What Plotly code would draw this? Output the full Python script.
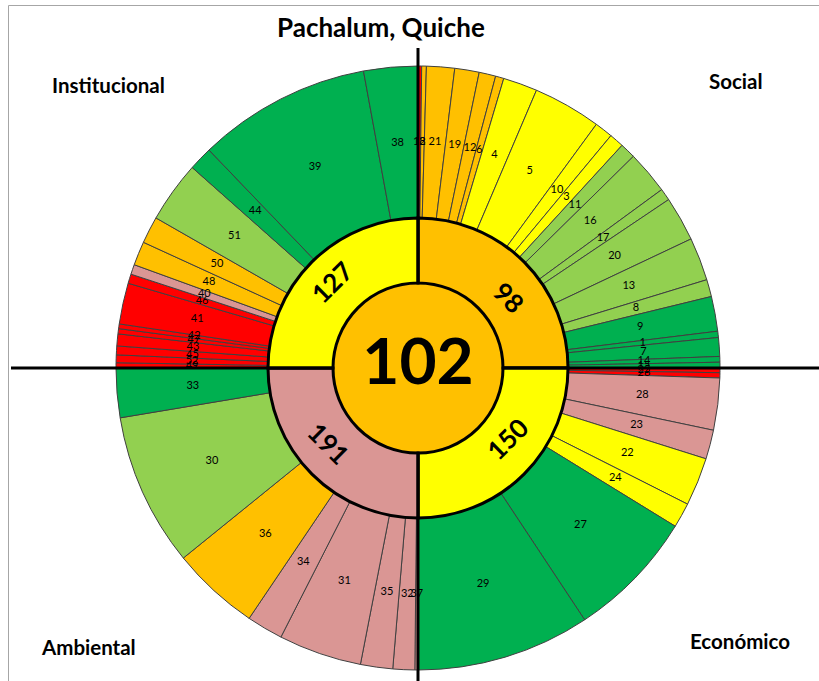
import numpy as np
import plotly.graph_objects as go

# ---------------- data ----------------
# outer ring: indicator numbers, angular share (deg within each 90° quadrant), rating class
social_labels = ["18", "2", "21", "19", "12", "6", "4", "5", "10", "3", "11", "16", "17", "20", "13", "8", "9", "1", "7", "14", "15"]
social_share = [0.7, 0.9, 5.4, 4.7, 3.2, 1.6, 6.6, 13.1, 3.5, 2.8, 3.0, 8.3, 2.3, 8.6, 8.3, 3.3, 6.7, 1.2, 3.6, 1.1, 1.1]
social_class = ["R", "O", "O", "O", "O", "O", "Y", "Y", "Y", "Y", "LG", "LG", "LG", "LG", "LG", "LG", "DG", "DG", "DG", "DG", "DG"]

econ_labels = ["25", "26", "28", "23", "22", "24", "27", "29"]
econ_share = [0.9, 1.0, 10.0, 5.6, 9.3, 4.8, 24.9, 33.5]
econ_class = ["R", "R", "P", "P", "Y", "Y", "DG", "DG"]

amb_labels = ["37", "32", "35", "31", "34", "36", "30", "33"]
amb_share = [0.6, 4.2, 6.2, 16.0, 7.0, 17.0, 29.5, 9.5]
amb_class = ["P", "P", "P", "P", "P", "O", "LG", "DG"]

inst_labels = ["49", "52", "45", "43", "47", "42", "41", "46", "40", "48", "50", "51", "44", "39", "38"]
inst_share = [1.0, 1.5, 1.7, 2.3, 1.0, 0.9, 7.9, 1.8, 1.9, 4.6, 5.2, 11.8, 4.6, 33.4, 10.4]
inst_class = ["R", "R", "R", "R", "R", "R", "R", "R", "P", "O", "O", "LG", "DG", "DG", "DG"]

# middle ring: dimensions
dimensions = ["Social", "Económico", "Ambiental", "Institucional"]
dim_scores = [98, 150, 191, 127]
dim_class = ["O", "Y", "P", "Y"]

# center
total_score = 102
total_class = "O"
title_text = "Pachalum, Quiche"

# ---------------- styles ----------------
COLORS = {"R": "#FF0000", "O": "#FFC000", "Y": "#FFFF00", "LG": "#92D050", "DG": "#00B050", "P": "#DA9694"}
FONT = "Lato"
W, H = 819, 681
CX, CY = 418, 368          # chart centre in px (from top-left)
R_OUT, R_MID, R_IN = 302, 150, 85
RD = R_OUT + 2             # polar domain radius (px)
LABEL_R = 226
dim_label_pos = [(52, 115), (128.6, 114), (230, 117), (315, 122)]  # (angle, radius) for rotated labels
dim_label_rot = [45, -45, 45, -45]
corner_pos = [(736, 81), (740, 641), (88, 647), (108, 85)]

labels = social_labels + econ_labels + amb_labels + inst_labels
share = np.array(social_share + econ_share + amb_share + inst_share, dtype=float)
classes = social_class + econ_class + amb_class + inst_class
starts = np.concatenate([[0.0], np.cumsum(share)[:-1]])
centers = starts + share / 2
n = len(labels)

dim_width = 360.0 / len(dimensions)
dim_centers = [dim_width * (i + 0.5) for i in range(len(dimensions))]

fig = go.Figure()

# outer ring
fig.add_trace(go.Barpolar(
    r=[R_OUT - R_MID] * n, base=[R_MID] * n, theta=centers, width=share,
    marker=dict(color=[COLORS[c] for c in classes], line=dict(color="#404040", width=1)),
    hoverinfo="skip", showlegend=False))

# centre disc
fig.add_trace(go.Barpolar(
    r=[R_IN] * 4, base=[0] * 4, theta=dim_centers, width=[dim_width] * 4,
    marker=dict(color=COLORS[total_class], line=dict(color=COLORS[total_class], width=1)),
    hoverinfo="skip", showlegend=False))

# middle ring
fig.add_trace(go.Barpolar(
    r=[R_MID - R_IN] * 4, base=[R_IN] * 4, theta=dim_centers, width=[dim_width] * 4,
    marker=dict(color=[COLORS[c] for c in dim_class], line=dict(color="black", width=3)),
    hoverinfo="skip", showlegend=False))

# outer labels
fig.add_trace(go.Scatterpolar(
    r=[LABEL_R] * n, theta=centers, mode="text", text=labels,
    textfont=dict(size=11, color="black", family=FONT),
    hoverinfo="skip", showlegend=False))

# centre label
fig.add_trace(go.Scatterpolar(
    r=[0], theta=[0], mode="text", text=[str(total_score)],
    textfont=dict(size=64, color="black", family=FONT, weight="bold"),
    hoverinfo="skip", showlegend=False))


def px(x):
    return x / W


def py(y):
    return 1 - y / H


shapes = [
    dict(type="rect", xref="paper", yref="paper", x0=px(8.5), x1=px(W + 20), y0=py(5.5), y1=py(H + 20),
         line=dict(color="#A6A6A6", width=1), layer="below"),
    dict(type="line", xref="paper", yref="paper", x0=px(11), x1=px(CX - R_IN), y0=py(CY), y1=py(CY),
         line=dict(color="black", width=3)),
    dict(type="line", xref="paper", yref="paper", x0=px(CX + R_IN), x1=px(W), y0=py(CY), y1=py(CY),
         line=dict(color="black", width=3)),
    dict(type="line", xref="paper", yref="paper", x0=px(CX), x1=px(CX), y0=py(48), y1=py(CY - R_IN),
         line=dict(color="black", width=3)),
    dict(type="line", xref="paper", yref="paper", x0=px(CX), x1=px(CX), y0=py(CY + R_IN), y1=py(H),
         line=dict(color="black", width=3)),
]

annotations = [
    dict(text="<b>" + title_text + "</b>", x=px(381), y=py(27), xref="paper", yref="paper",
         xanchor="center", yanchor="middle",
         showarrow=False, font=dict(size=26, family=FONT, color="black")),
]
for name, (x, y) in zip(dimensions, corner_pos):
    annotations.append(dict(text="<b>" + name + "</b>", x=px(x), y=py(y), xref="paper", yref="paper",
                            xanchor="center", yanchor="middle",
                            showarrow=False, font=dict(size=20.5, family=FONT, color="black")))
for val, (ang, rr), rot in zip(dim_scores, dim_label_pos, dim_label_rot):
    a = np.radians(ang)
    x = CX + rr * np.sin(a)
    y = CY - rr * np.cos(a)
    annotations.append(dict(text="<b>" + str(val) + "</b>", x=px(x), y=py(y), xref="paper", yref="paper",
                            xanchor="center", yanchor="middle",
                            showarrow=False, textangle=rot, font=dict(size=26, family=FONT, color="black")))

fig.update_layout(
    width=W, height=H, margin=dict(l=0, r=0, t=0, b=0),
    paper_bgcolor="white", plot_bgcolor="white",
    polar=dict(
        domain=dict(x=[(CX - RD) / W, (CX + RD) / W], y=[(H - CY - RD) / H, (H - CY + RD) / H]),
        radialaxis=dict(range=[0, RD], visible=False),
        angularaxis=dict(visible=False, direction="clockwise", rotation=90),
        bgcolor="rgba(0,0,0,0)", barmode="overlay", hole=0),
    shapes=shapes, annotations=annotations, showlegend=False,
)

fig.write_html("out.html", config={"displayModeBar": False},
               post_script="document.body.style.margin='0';")
